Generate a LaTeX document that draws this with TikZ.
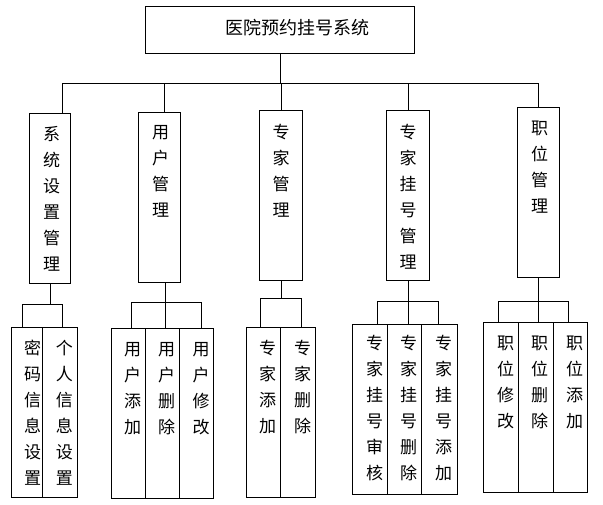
\documentclass[tikz,border=0pt]{standalone}
\usepackage{fontspec}
\setmainfont{Noto Sans CJK SC}
\usetikzlibrary{positioning}

\begin{document}
\begin{tikzpicture}[
  x=1pt, y=-1pt, line width=1pt,
  box/.style={draw, anchor=north west, inner sep=0pt, minimum height=170pt},
  vt/.style={inner sep=0pt, align=center, font=\fontsize{17}{26}\selectfont},
  ttl/.style={inner sep=0pt, font=\fontsize{18}{20}\selectfont}]
\useasboundingbox (0,0) rectangle (603,504);
% root
\node[box, minimum width=269pt, minimum height=47pt] (top) at (145,6) {};
\node[ttl] (title) at (297,28) {医院预约挂号系统};
% second level
\node[box, minimum width=41pt] (m1) at (29,113) {};
\node[box, minimum width=42pt] (m2) at (138,112) {};
\node[box, minimum width=43pt] (m3) at (259,110) {};
\node[box, minimum width=43pt] (m4) at (386,110) {};
\node[box, minimum width=42pt] (m5) at (517,107) {};
\node[vt, below=13pt of m1.north, xshift=1.5pt] (m1t) {系\\统\\设\\置\\管\\理};
\node[vt, below=13pt of m2.north, xshift=1pt] (m2t) {用\\户\\管\\理};
\node[vt, below=14pt of m3.north] (m3t) {专\\家\\管\\理};
\node[vt, below=14pt of m4.north] (m4t) {专\\家\\挂\\号\\管\\理};
\node[vt, below=13pt of m5.north, xshift=1pt] (m5t) {职\\位\\管\\理};
% third level
\node[box, minimum width=31pt] (s11) at (11,327) {};
\node[box, minimum width=35pt] (s12) at (42,327) {};
\node[box, minimum width=34pt] (s21) at (111,328) {};
\node[box, minimum width=34pt] (s22) at (145,328) {};
\node[box, minimum width=34pt] (s23) at (179,328) {};
\node[box, minimum width=34pt] (s31) at (246,327) {};
\node[box, minimum width=35pt] (s32) at (280,327) {};
\node[box, minimum width=35pt] (s41) at (352,324) {};
\node[box, minimum width=34pt] (s42) at (387,324) {};
\node[box, minimum width=36pt] (s43) at (421,324) {};
\node[box, minimum width=35pt] (s51) at (483,322) {};
\node[box, minimum width=35pt] (s52) at (518,322) {};
\node[box, minimum width=34pt] (s53) at (553,322) {};
\node[vt, below=13pt of s11.north, xshift=5.5pt] (s11t) {密\\码\\信\\息\\设\\置};
\node[vt, below=13pt of s12.north, xshift=4.5pt] (s12t) {个\\人\\信\\息\\设\\置};
\node[vt, below=14pt of s21.north, xshift=4pt] (s21t) {用\\户\\添\\加};
\node[vt, below=14pt of s22.north, xshift=4pt] (s22t) {用\\户\\删\\除};
\node[vt, below=14pt of s23.north, xshift=4.5pt] (s23t) {用\\户\\修\\改};
\node[vt, below=13pt of s31.north, xshift=4pt] (s31t) {专\\家\\添\\加};
\node[vt, below=13pt of s32.north, xshift=4.5pt] (s32t) {专\\家\\删\\除};
\node[vt, below=11pt of s41.north, xshift=4.5pt] (s41t) {专\\家\\挂\\号\\审\\核};
\node[vt, below=11pt of s42.north, xshift=4pt] (s42t) {专\\家\\挂\\号\\删\\除};
\node[vt, below=11pt of s43.north, xshift=4pt] (s43t) {专\\家\\挂\\号\\添\\加};
\node[vt, below=13pt of s51.north, xshift=4.5pt] (s51t) {职\\位\\修\\改};
\node[vt, below=13pt of s52.north, xshift=3.5pt] (s52t) {职\\位\\删\\除};
\node[vt, below=13pt of s53.north, xshift=4pt] (s53t) {职\\位\\添\\加};
% connectors, top bus
\coordinate (bus) at (0,83);
\draw (top.south) -- (top.south |- bus);
\draw ([xshift=12.5pt]m1.north |- bus) -- (m5.north |- bus);
\foreach \n/\dx in {m1/12.5,m2/5,m3/0,m4/0,m5/0}
  \draw ([xshift=\dx pt]\n.north |- bus) -- ([xshift=\dx pt]\n.north);
% connectors, lower buses
\coordinate (g1-l) at (22,304);  \coordinate (g1-r) at (62,304);
\coordinate (g2-l) at (131,302); \coordinate (g2-r) at (201,302);
\coordinate (g3-l) at (260,298); \coordinate (g3-r) at (301,298);
\coordinate (g4-l) at (377,301); \coordinate (g4-r) at (438,301);
\coordinate (g5-l) at (498,301); \coordinate (g5-r) at (568,301);
\foreach \g/\a/\b in {g1/s11/s12,g2/s21/s23,g3/s31/s32,g4/s41/s43,g5/s51/s53} {
  \draw (\g-l) -- (\g-r);
  \draw (\g-l) -- (\g-l |- \a.north);
  \draw (\g-r) -- (\g-r |- \b.north);
}
\draw (m1.south) -- (m1.south |- g1-l);
\draw ([xshift=6pt]m2.south) -- ([xshift=6pt]m2.south |- s22.north);
\draw (m3.south) -- (m3.south |- g3-l);
\draw (m4.south) -- (m4.south |- s42.north);
\draw (m5.south) -- (m5.south |- s52.north);
\end{tikzpicture}
\end{document}
